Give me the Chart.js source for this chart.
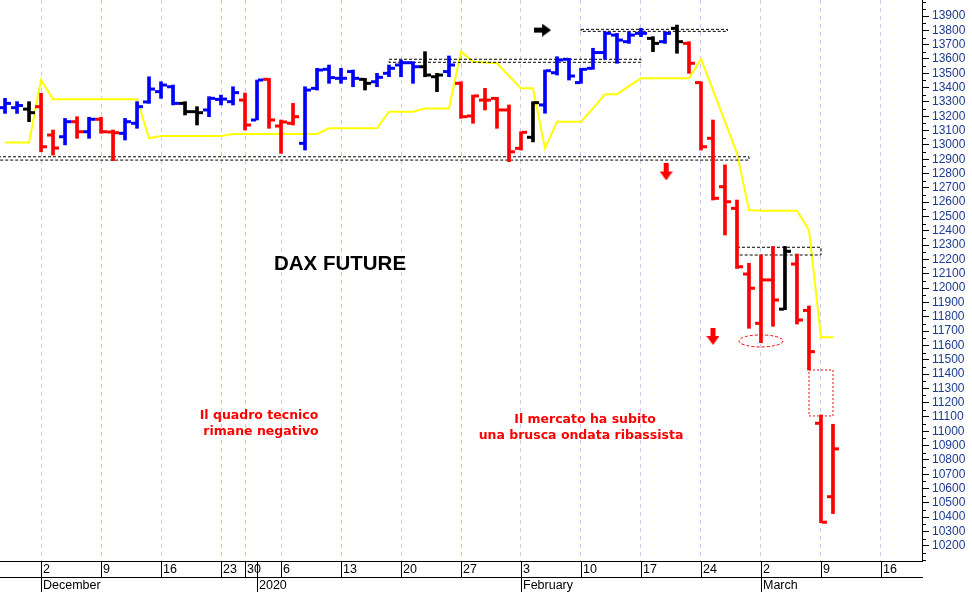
<!DOCTYPE html>
<html>
<head>
<meta charset="utf-8">
<script src="https://cdn.jsdelivr.net/npm/chart.js@4.4.1/dist/chart.umd.min.js"></script>
<style>
  html, body { margin: 0; padding: 0; background: #fff; }
  #wrap { width: 972px; height: 592px; position: relative; }
</style>
</head>
<body>
<div id="wrap"><canvas id="myChart"></canvas></div>
<script>
// DAX future, daily sessions from 27 Nov 2019 (index 0) to 10 Mar 2020 (index 69)
const opens = [13260, 13260, 13250, 13267, 13069, 13057, 13162, 13092, 13179, 13090,
  13081, 13151, 13300, 13372, 13406, 13290, 13232, 13244, 13318, 13302,
  13313, 13174, 13458, 13132, 13151, 13011, 13395, 13528, 13465, 13512,
  13458, 13441, 13500, 13558, 13574, 13546, 13476, 13512, 13430, 13202,
  13313, 13325, 13244, 12976, 13053, 13279, 13504, 13598, 13435, 13535,
  13645, 13767, 13721, 13779, 13744, 13721, 13814, 13709, 13435, 13046,
  12708, 12557, 12098, 11754, 12057, 11853, 12168, 11844, 11056, 10543];
const highs = [13325, 13302, 13302, 13360, 13104, 13185, 13197, 13193, 13193, 13104,
  13185, 13302, 13476, 13441, 13418, 13302, 13267, 13337, 13348, 13406,
  13362, 13453, 13465, 13174, 13290, 13406, 13535, 13558, 13535, 13523,
  13465, 13500, 13558, 13593, 13581, 13651, 13500, 13621, 13441, 13348,
  13395, 13332, 13279, 13092, 13302, 13523, 13616, 13605, 13535, 13675,
  13790, 13779, 13790, 13814, 13756, 13790, 13837, 13721, 13441, 13174,
  12860, 12615, 12173, 12231, 12291, 12291, 12238, 11875, 11114, 11049];
const lows = [13220, 13220, 13162, 12952, 12929, 13000, 13046, 13046, 13081, 12890,
  13034, 13116, 13290, 13325, 13279, 13209, 13139, 13197, 13279, 13279,
  13104, 13174, 13116, 12941, 13139, 12964, 13383, 13430, 13430, 13406,
  13383, 13406, 13476, 13476, 13430, 13476, 13372, 13476, 13186, 13151,
  13244, 13116, 12883, 12964, 13021, 13221, 13488, 13453, 13430, 13528,
  13598, 13570, 13709, 13756, 13651, 13709, 13640, 13500, 12964, 12615,
  12371, 12137, 11719, 11619, 11733, 11849, 11749, 11428, 10362, 10425];
const closes = [13290, 13275, 13225, 12987, 12978, 13162, 13092, 13179, 13092, 13085,
  13162, 13267, 13390, 13418, 13290, 13232, 13225, 13325, 13320, 13365,
  13139, 13453, 13174, 13160, 13197, 13383, 13523, 13470, 13465, 13465,
  13430, 13472, 13535, 13574, 13546, 13488, 13488, 13558, 13197, 13342,
  13313, 13244, 12952, 13088, 13295, 13518, 13593, 13481, 13528, 13645,
  13779, 13732, 13767, 13779, 13709, 13779, 13721, 13570, 12987, 12627,
  12603, 12149, 11999, 12057, 11917, 12257, 11777, 11556, 10365, 10877];
// b = blue, r = red, k = black
const barColors = ["b", "b", "k", "r", "r", "b", "r", "b", "r", "r",
  "b", "b", "b", "b", "b", "k", "k", "b", "b", "b",
  "r", "b", "r", "r", "r", "b", "b", "b", "b", "b",
  "k", "b", "b", "b", "b", "k", "k", "b", "r", "r",
  "r", "r", "r", "r", "k", "b", "b", "b", "b", "b",
  "b", "b", "b", "b", "k", "b", "k", "r", "r", "r",
  "r", "r", "r", "r", "r", "k", "r", "r", "r", "r"];
const stopLine = [13016, 13016, 13016, 13453, 13318, 13318, 13318, 13318, 13318, 13318,
  13318, 13318, 13046, 13062, 13062, 13062, 13062, 13062, 13062, 13076,
  13076, 13076, 13076, 13076, 13076, 13076, 13076, 13116, 13116, 13116,
  13116, 13116, 13232, 13232, 13232, 13255, 13255, 13255, 13651, 13581,
  13575, 13570, 13481, 13395, 13395, 12976, 13162, 13162, 13162, 13255,
  13353, 13353, 13411, 13465, 13465, 13465, 13465, 13465, 13600, 13383,
  13162, 12941, 12545, 12541, 12541, 12541, 12541, 12406, 11656, 11656];

// x axis
const dayTickIdx = [3, 8, 13, 18, 20, 23, 28, 33, 38, 43, 48, 53, 58, 63, 68, 73];
const dayTickLabels = ["2", "9", "16", "23", "30", "6", "13", "20", "27", "3", "10", "17", "24", "2", "9", "16"];
const monthIdx = [3, 21, 43, 63];
const monthLabels = ["December", "2020", "February", "March"];
// y axis
const yTickValues = [10200, 10300, 10400, 10500, 10600, 10700, 10800, 10900, 11000, 11100,
  11200, 11300, 11400, 11500, 11600, 11700, 11800, 11900, 12000, 12100,
  12200, 12300, 12400, 12500, 12600, 12700, 12800, 12900, 13000, 13100,
  13200, 13300, 13400, 13500, 13600, 13700, 13800, 13900];

// dashed boxes: from index, to index, upper, lower
const boxFrom = [-1, 32, 48, 61];
const boxTo = [62, 53, 60.2, 68];
const boxHigh = [12917, 13598, 13807, 12285];
const boxLow = [12894, 13577, 13793, 12231];
// price gap 6-9 March
const gapFrom = 67, gapTo = 69, gapHigh = 11428, gapLow = 11107;
// arrows
const arrowIdx = [44.8, 55.1, 59.0];
const arrowVal = [13802, 12811, 11662];
const arrowKind = ["right", "down", "down"];
// low circled on 2 March
const ringIdx = 63, ringVal = 11631;

const colorMap = { b: "#0000ff", r: "#ff0000", k: "#000000" };
const barCols = barColors.map((c) => colorMap[c]);

function makeArrow(kind) {
  const c = document.createElement("canvas");
  const g = c.getContext("2d");
  if (kind === "right") {
    c.width = 17; c.height = 13;
    g.fillStyle = "#000";
    g.fillRect(0, 4, 9, 5);
    g.beginPath(); g.moveTo(8, 0); g.lineTo(17, 6.5); g.lineTo(8, 13); g.closePath(); g.fill();
  } else {
    c.width = 13; c.height = 17;
    g.fillStyle = "#ff0000";
    g.fillRect(4, 0, 5, 9);
    g.beginPath(); g.moveTo(0, 8); g.lineTo(13, 8); g.lineTo(6.5, 17); g.closePath(); g.fill();
  }
  return c;
}

const boxSets = boxFrom.map((f, k) => ({
  type: "scatter",
  showLine: true,
  data: [
    { x: f, y: boxHigh[k] }, { x: boxTo[k], y: boxHigh[k] },
    { x: boxTo[k], y: boxLow[k] }, { x: f, y: boxLow[k] }, { x: f, y: boxHigh[k] },
  ],
  borderColor: "#000",
  borderWidth: 1,
  borderDash: [3, 2],
  pointRadius: 0,
  order: 8,
}));

const overlay = {
  id: "overlay",
  afterDraw(chart) {
    const { ctx, chartArea } = chart;
    const x = chart.scales.x;
    const y = chart.scales.y;
    ctx.save();

    // minor ticks on the price axis
    ctx.strokeStyle = "#000";
    ctx.lineWidth = 1;
    ctx.beginPath();
    for (let v = 10100; v <= 14000; v += 50) {
      if (yTickValues.includes(v)) continue;
      const py = Math.round(y.getPixelForValue(v)) + 0.5;
      ctx.moveTo(chartArea.right, py);
      ctx.lineTo(chartArea.right + 4, py);
    }
    ctx.stroke();

    // date axis
    const top = chartArea.bottom;
    ctx.beginPath();
    ctx.moveTo(0, top + 0.5); ctx.lineTo(chartArea.right + 1, top + 0.5);
    ctx.moveTo(0, top + 16.5); ctx.lineTo(chartArea.right + 1, top + 16.5);
    dayTickIdx.forEach((i) => {
      const px = Math.round(x.getPixelForValue(i)) + 0.5;
      ctx.moveTo(px, top); ctx.lineTo(px, top + 16);
    });
    monthIdx.forEach((i) => {
      const px = Math.round(x.getPixelForValue(i)) + 0.5;
      ctx.moveTo(px, top); ctx.lineTo(px, chart.height);
    });
    ctx.stroke();

    ctx.fillStyle = "#000";
    ctx.font = '12.5px "Liberation Sans"';
    ctx.textAlign = "left";
    ctx.textBaseline = "middle";
    dayTickIdx.forEach((i, k) => {
      ctx.fillText(dayTickLabels[k], Math.round(x.getPixelForValue(i)) + 2, top + 9);
    });
    monthIdx.forEach((i, k) => {
      ctx.fillText(monthLabels[k], Math.round(x.getPixelForValue(i)) + 2, top + 25);
    });

    // dashed ring on the low
    ctx.strokeStyle = "#ff0000";
    ctx.setLineDash([3, 2]);
    ctx.beginPath();
    ctx.ellipse(x.getPixelForValue(ringIdx), y.getPixelForValue(ringVal), 22, 6, 0, 0, Math.PI * 2);
    ctx.stroke();
    ctx.setLineDash([]);

    // titles
    ctx.textAlign = "center";
    ctx.fillStyle = "#000";
    ctx.font = 'bold 20.5px "Liberation Sans"';
    ctx.fillText("DAX FUTURE", 340, 264);
    ctx.fillStyle = "#ff0000";
    ctx.font = 'bold 12.5px "DejaVu Sans"';
    ctx.fillText("Il quadro tecnico", 259, 416);
    ctx.fillText("rimane negativo", 261, 432);
    ctx.fillText("Il mercato ha subito", 585, 420);
    ctx.fillText("una brusca ondata ribassista", 581, 436);
    ctx.restore();
  },
};

const ctx = document.getElementById("myChart");
new Chart(ctx, {
  type: "bar",
  data: {
    datasets: [
      {
        type: "bar",
        data: highs.map((h, i) => ({ x: i, y: [lows[i], h] })),
        backgroundColor: barCols,
        borderWidth: 0,
        barThickness: 3,
        order: 2,
      },
      {
        type: "scatter",
        data: opens.map((v, i) => ({ x: i - 0.29, y: v })),
        pointStyle: "line",
        pointRadius: 2.5,
        pointBorderWidth: 3,
        borderColor: barCols,
        order: 1,
      },
      {
        type: "scatter",
        data: closes.map((v, i) => ({ x: i + 0.29, y: v })),
        pointStyle: "line",
        pointRadius: 2.5,
        pointBorderWidth: 3,
        borderColor: barCols,
        order: 1,
      },
      {
        type: "line",
        data: stopLine.map((v, i) => ({ x: i, y: v })),
        borderColor: "#ffff00",
        borderWidth: 2,
        pointRadius: 0,
        tension: 0,
        fill: false,
        order: 10,
      },
      ...boxSets,
      {
        type: "scatter",
        showLine: true,
        data: [
          { x: gapFrom, y: gapHigh }, { x: gapTo, y: gapHigh },
          { x: gapTo, y: gapLow }, { x: gapFrom, y: gapLow }, { x: gapFrom, y: gapHigh },
        ],
        borderColor: "#ff0000",
        borderWidth: 1,
        borderDash: [2, 2],
        pointRadius: 0,
        order: 8,
      },
      {
        type: "scatter",
        data: arrowIdx.map((v, k) => ({ x: v, y: arrowVal[k] })),
        pointStyle: arrowKind.map(makeArrow),
        pointRadius: 8,
        order: 0,
      },
    ],
  },
  options: {
    responsive: true,
    maintainAspectRatio: false,
    animation: false,
    events: [],
    layout: { padding: 0, autoPadding: false },
    plugins: { legend: { display: false }, tooltip: { enabled: false } },
    scales: {
      x: {
        type: "linear",
        min: -0.42,
        max: 76.42,
        offset: false,
        afterBuildTicks: (s) => { s.ticks = dayTickIdx.map((v) => ({ value: v })); },
        ticks: { display: false },
        grid: { color: "#c9c9f0", drawTicks: false, offset: false },
        border: { display: false, dash: [4, 4] },
        afterFit: (s) => { s.height = 31; s.paddingLeft = 0; s.paddingRight = 0; },
      },
      y: {
        position: "right",
        min: 10094,
        max: 14012,
        afterBuildTicks: (s) => { s.ticks = yTickValues.map((v) => ({ value: v })); },
        ticks: {
          color: "#1d3b8f",
          font: { family: "Liberation Sans", size: 12 },
          padding: 3,
          autoSkip: false,
          callback: (v) => String(v),
        },
        grid: { drawOnChartArea: false, tickLength: 7, color: "#000" },
        border: { color: "#000", width: 1 },
        afterFit: (s) => { s.width = 50; s.paddingTop = 0; s.paddingBottom = 0; },
      },
    },
  },
  plugins: [overlay],
});
</script>
</body>
</html>
